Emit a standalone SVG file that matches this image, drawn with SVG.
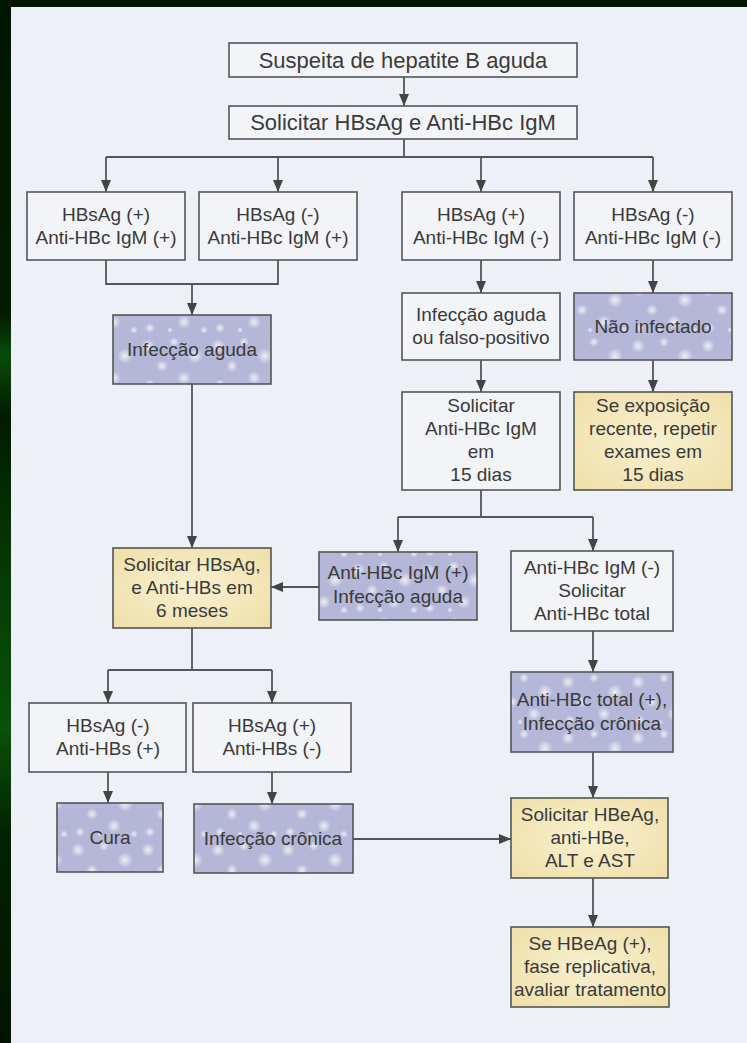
<svg xmlns="http://www.w3.org/2000/svg" width="747" height="1043" viewBox="0 0 747 1043">
<style>
.t{font-family:"Liberation Sans",Arial,sans-serif;font-size:19px;fill:#3a3a3a;text-anchor:middle}
.big{font-size:22px}
.bx{stroke:#555;stroke-width:1.6}
.w{fill:#f3f4f8}
.b{fill:url(#bokeh)}
.y{fill:url(#yel)}
.c{fill:none;stroke:#555;stroke-width:1.8}
.a{marker-end:url(#ah)}
</style>
<defs>
<linearGradient id="edge" x1="0" y1="0" x2="0" y2="1">
<stop offset="0" stop-color="#011601"/>
<stop offset="0.3" stop-color="#021c02"/>
<stop offset="0.34" stop-color="#0a4a0a"/>
<stop offset="0.4" stop-color="#021c02"/>
<stop offset="0.55" stop-color="#063a06"/>
<stop offset="0.7" stop-color="#0b500b"/>
<stop offset="0.8" stop-color="#032203"/>
<stop offset="1" stop-color="#011401"/>
</linearGradient>
<radialGradient id="dot">
<stop offset="0" stop-color="#ffffff" stop-opacity="0.75"/>
<stop offset="1" stop-color="#ffffff" stop-opacity="0"/>
</radialGradient>
<pattern id="bokeh" patternUnits="userSpaceOnUse" width="70" height="56">
<rect width="70" height="56" fill="#b4b7d7"/>
<circle cx="8" cy="10" r="7" fill="url(#dot)"/>
<circle cx="34" cy="6" r="5" fill="url(#dot)"/>
<circle cx="55" cy="20" r="8" fill="url(#dot)"/>
<circle cx="22" cy="30" r="6" fill="url(#dot)"/>
<circle cx="44" cy="42" r="7" fill="url(#dot)"/>
<circle cx="10" cy="48" r="5" fill="url(#dot)"/>
<circle cx="64" cy="50" r="4" fill="url(#dot)"/>
<circle cx="30" cy="50" r="3" fill="url(#dot)"/>
</pattern>
<radialGradient id="yel" cx="0.5" cy="0.5" r="0.7">
<stop offset="0" stop-color="#f8f0d0"/>
<stop offset="1" stop-color="#efdfa8"/>
</radialGradient>
<marker id="ah" markerUnits="userSpaceOnUse" markerWidth="12" markerHeight="10" refX="12" refY="5" orient="auto">
<path d="M0,0 L12,5 L0,10 z" fill="#444"/>
</marker>
</defs>

<rect x="0" y="0" width="747" height="1043" fill="#011601"/>
<rect x="0" y="0" width="11" height="1043" fill="url(#edge)"/>
<rect x="11" y="7" width="736" height="1036" fill="#eef0f7"/>

<g id="connectors">
<path class="c a" d="M404,77 V106"/>
<path class="c" d="M404,139 V157 M106,157 H653"/>
<path class="c a" d="M106,157 V192"/>
<path class="c a" d="M278,157 V192"/>
<path class="c a" d="M481,157 V192"/>
<path class="c a" d="M653,157 V192"/>
<path class="c" d="M106,260 V284 H278 V260"/>
<path class="c a" d="M192,284 V315"/>
<path class="c a" d="M192,384 V548"/>
<path class="c a" d="M481,260 V293"/>
<path class="c a" d="M653,260 V293"/>
<path class="c a" d="M481,360 V392"/>
<path class="c a" d="M653,360 V392"/>
<path class="c" d="M481,490 V517 M398,517 H593"/>
<path class="c a" d="M398,517 V552"/>
<path class="c a" d="M593,517 V551"/>
<path class="c a" d="M319,587 H271"/>
<path class="c" d="M192,628 V670 M108,670 H272"/>
<path class="c a" d="M108,670 V703"/>
<path class="c a" d="M272,670 V703"/>
<path class="c a" d="M108,772 V803"/>
<path class="c a" d="M272,772 V804"/>
<path class="c a" d="M353,839 H511"/>
<path class="c a" d="M593,631 V672"/>
<path class="c a" d="M593,752 V798"/>
<path class="c a" d="M593,878 V927"/>
</g>

<g id="n1"><rect class="bx w" x="229" y="43" width="348" height="34"/><text class="t big" x="403" y="67.5">Suspeita de hepatite B aguda</text></g>
<g id="n2"><rect class="bx w" x="229" y="106" width="348" height="33"/><text class="t big" x="403" y="130">Solicitar HBsAg e Anti-HBc IgM</text></g>

<g id="r1a"><rect class="bx w" x="27" y="192" width="158" height="68"/><text class="t" x="106" y="221">HBsAg (+)</text><text class="t" x="106" y="244">Anti-HBc IgM (+)</text></g>
<g id="r1b"><rect class="bx w" x="199" y="192" width="158" height="68"/><text class="t" x="278" y="221">HBsAg (-)</text><text class="t" x="278" y="244">Anti-HBc IgM (+)</text></g>
<g id="r1c"><rect class="bx w" x="402" y="192" width="158" height="68"/><text class="t" x="481" y="221">HBsAg (+)</text><text class="t" x="481" y="244">Anti-HBc IgM (-)</text></g>
<g id="r1d"><rect class="bx w" x="574" y="192" width="158" height="68"/><text class="t" x="653" y="221">HBsAg (-)</text><text class="t" x="653" y="244">Anti-HBc IgM (-)</text></g>

<g id="infaguda"><rect class="bx b" x="113" y="315" width="158" height="69"/><text class="t" x="192" y="356">Infecção aguda</text></g>
<g id="falso"><rect class="bx w" x="402" y="293" width="158" height="67"/><text class="t" x="481" y="321">Infecção aguda</text><text class="t" x="481" y="344">ou falso-positivo</text></g>
<g id="naoinf"><rect class="bx b" x="574" y="293" width="158" height="67"/><text class="t" x="653" y="333">Não infectado</text></g>

<g id="sol15"><rect class="bx w" x="402" y="392" width="158" height="98"/><text class="t" x="481" y="412">Solicitar</text><text class="t" x="481" y="435">Anti-HBc IgM</text><text class="t" x="481" y="458">em</text><text class="t" x="481" y="481">15 dias</text></g>
<g id="seexp"><rect class="bx y" x="574" y="392" width="158" height="98"/><text class="t" x="653" y="412">Se exposição</text><text class="t" x="653" y="435">recente, repetir</text><text class="t" x="653" y="458">exames em</text><text class="t" x="653" y="481">15 dias</text></g>

<g id="igmpos"><rect class="bx b" x="319" y="552" width="158" height="68"/><text class="t" x="398" y="579">Anti-HBc IgM (+)</text><text class="t" x="398" y="603">Infecção aguda</text></g>
<g id="igmneg"><rect class="bx w" x="511" y="551" width="162" height="80"/><text class="t" x="592" y="574">Anti-HBc IgM (-)</text><text class="t" x="592" y="597">Solicitar</text><text class="t" x="592" y="620">Anti-HBc total</text></g>

<g id="solhbs"><rect class="bx y" x="113" y="548" width="158" height="80"/><text class="t" x="192" y="571">Solicitar HBsAg,</text><text class="t" x="192" y="594">e Anti-HBs em</text><text class="t" x="192" y="617">6 meses</text></g>

<g id="r4a"><rect class="bx w" x="29" y="703" width="157" height="69"/><text class="t" x="108" y="732">HBsAg (-)</text><text class="t" x="108" y="755">Anti-HBs (+)</text></g>
<g id="r4b"><rect class="bx w" x="193" y="703" width="158" height="69"/><text class="t" x="272" y="732">HBsAg (+)</text><text class="t" x="272" y="755">Anti-HBs (-)</text></g>

<g id="total"><rect class="bx b" x="511" y="672" width="162" height="80"/><text class="t" x="592" y="706">Anti-HBc total (+),</text><text class="t" x="592" y="730">Infecção crônica</text></g>

<g id="cura"><rect class="bx b" x="57" y="803" width="106" height="69"/><text class="t" x="110" y="844">Cura</text></g>
<g id="cronica"><rect class="bx b" x="194" y="804" width="159" height="69"/><text class="t" x="273" y="845">Infecção crônica</text></g>

<g id="solhbe"><rect class="bx y" x="511" y="798" width="157" height="80"/><text class="t" x="590" y="821">Solicitar HBeAg,</text><text class="t" x="590" y="844">anti-HBe,</text><text class="t" x="590" y="867">ALT e AST</text></g>
<g id="sehbe"><rect class="bx y" x="511" y="927" width="158" height="80"/><text class="t" x="590" y="950">Se HBeAg (+),</text><text class="t" x="590" y="973">fase replicativa,</text><text class="t" x="590" y="996">avaliar tratamento</text></g>
</svg>
